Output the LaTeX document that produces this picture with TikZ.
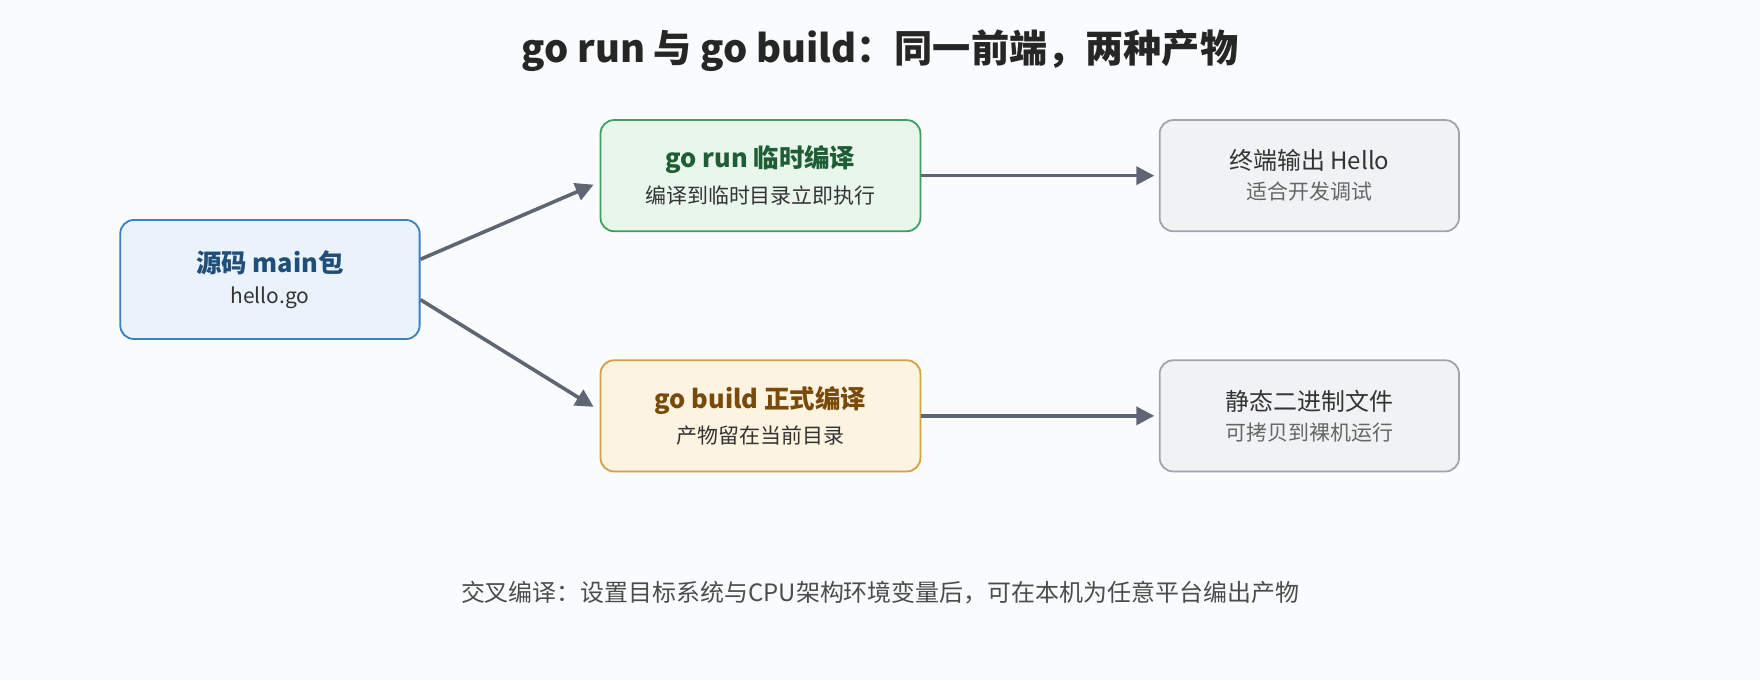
\documentclass[tikz,border=0pt]{standalone}
\usepackage{fontspec}
\setmainfont{Noto Sans CJK SC}
\usetikzlibrary{arrows.meta}
\definecolor{bgc}{HTML}{FAFBFD}
\definecolor{arrowc}{HTML}{5F6673}
\definecolor{srcfill}{HTML}{EAF2FC}\definecolor{srcdraw}{HTML}{3B7FC4}\definecolor{srctext}{HTML}{1F4E79}
\definecolor{runfill}{HTML}{E8F6EC}\definecolor{rundraw}{HTML}{3DA060}\definecolor{runtext}{HTML}{1E5E34}
\definecolor{bldfill}{HTML}{FDF3E1}\definecolor{blddraw}{HTML}{D4A040}\definecolor{bldtext}{HTML}{7A4A0A}
\definecolor{outfill}{HTML}{F1F2F4}\definecolor{outdraw}{HTML}{A0A4AC}
\tikzset{
  box/.style={rectangle,rounded corners=9pt,line width=1.2pt,align=center,inner sep=0pt},
  flow/.style={draw=arrowc,line width=2.4pt,-{Triangle[length=12pt,width=12pt]}},
}
\begin{document}
\begin{tikzpicture}[x=0.75pt,y=-0.75pt]
      \fill[bgc] (0,0) rectangle (1568,606);%

      \node[font=\bfseries\fontsize{25.5}{30}\selectfont,text=black!85] (T) at (784,45) {go run 与 go build：同一前端，两种产物};%

      \node[box,fill=srcfill,draw=srcdraw,minimum width=200pt,minimum height=79.5pt] (SRC) at (240.5,249)
      {{\bfseries\fontsize{17}{20}\selectfont\color{srctext}源码 main包}\\[7pt]{\fontsize{14}{16}\selectfont\color{black!80}hello.go}};%
      \node[box,fill=runfill,draw=rundraw,minimum width=213.75pt,minimum height=74.25pt] (RUN) at (677.5,156.5)
      {{\bfseries\fontsize{17}{20}\selectfont\color{runtext}go run 临时编译}\\[7pt]{\fontsize{14}{16}\selectfont\color{black!80}编译到临时目录立即执行}};%
      \node[box,fill=bldfill,draw=blddraw,minimum width=213.75pt,minimum height=74.25pt] (BLD) at (677.5,370.5)
      {{\bfseries\fontsize{17}{20}\selectfont\color{bldtext}go build 正式编译}\\[7pt]{\fontsize{14}{16}\selectfont\color{black!80}产物留在当前目录}};%
      \node[box,fill=outfill,draw=outdraw,minimum width=200pt,minimum height=74.25pt] (OUT1) at (1166.5,156.5)
      {{\fontsize{16}{19}\selectfont\color{black!80}终端输出 Hello}\\[6pt]{\fontsize{14}{16}\selectfont\color{black!60}适合开发调试}};%
      \node[box,fill=outfill,draw=outdraw,minimum width=200pt,minimum height=74.25pt] (OUT2) at (1166.5,370.5)
      {{\fontsize{16}{19}\selectfont\color{black!80}静态二进制文件}\\[6pt]{\fontsize{14}{16}\selectfont\color{black!60}可拷贝到裸机运行}};%

      \node[font=\fontsize{16}{18}\selectfont,text=black!70] (NOTE) at (784,528) {交叉编译：设置目标系统与CPU架构环境变量后，可在本机为任意平台编出产物};%

      \draw[flow] ([yshift=13.5pt]SRC.east) -- ([xshift=-4pt,yshift=-6pt]RUN.west);%
      \draw[flow] ([yshift=-13.5pt]SRC.east) -- ([xshift=-4pt,yshift=6pt]BLD.west);%
      \draw[flow] (RUN.east) -- ([xshift=-3pt]OUT1.west);%
      \draw[flow] (BLD.east) -- ([xshift=-3pt]OUT2.west);%
\end{tikzpicture}
\end{document}
